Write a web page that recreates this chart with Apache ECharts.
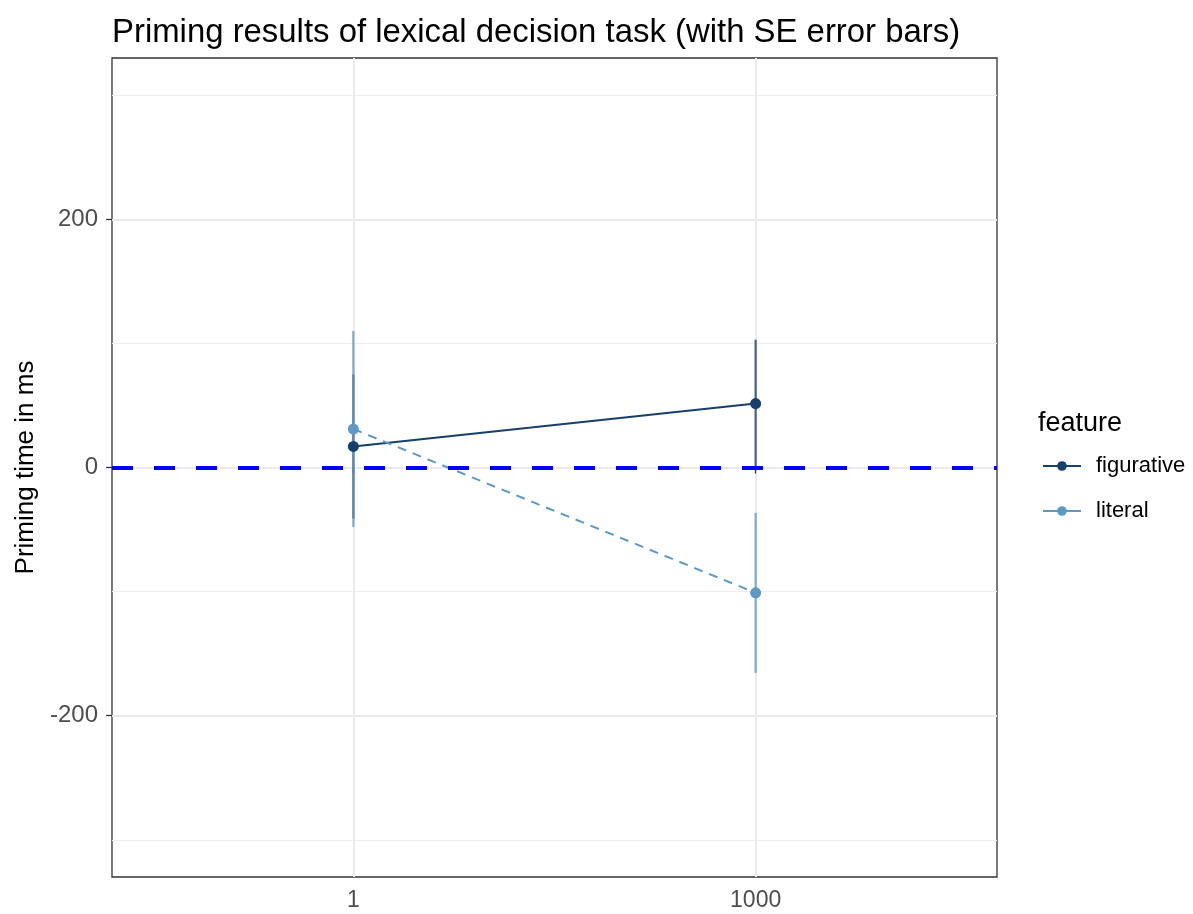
<!DOCTYPE html>
<html>
<head>
<meta charset="utf-8">
<script src="https://cdn.jsdelivr.net/npm/echarts@6/dist/echarts.min.js"></script>
<style>
html,body{margin:0;padding:0;background:#fff;}
#chart{width:1193px;height:914px;}
</style>
</head>
<body>
<div id="chart"></div>
<script>
// ---- data ----
var categories = ['1', '1000'];
var figurativeMean = [17, 51.5];
var figurativeSE = [58, 51.5];
var literalMean = [31, -101];
var literalSE = [79, 64.5];
var yTickLabels = [-200, 0, 200];
var yMinorGrid = [-300, -100, 100, 300];
var referenceLine = 0;

var FONT = 'Liberation Sans, Arial, Helvetica, sans-serif';
var colFig = '#173f6b';
var colLit = '#5c99c4';

var xPos = categories.map(function (c, i) { return i + 1; });
function pts(mean) { return mean.map(function (m, i) { return [xPos[i], m]; }); }
function bars(mean, se) { return mean.map(function (m, i) { return [xPos[i], m - se[i], m + se[i]]; }); }

function errRender(color) {
  return function (params, api) {
    var x = api.value(0);
    var p1 = api.coord([x, api.value(1)]);
    var p2 = api.coord([x, api.value(2)]);
    return {
      type: 'line',
      shape: { x1: p1[0], y1: p1[1], x2: p2[0], y2: p2[1] },
      style: { stroke: color, lineWidth: 2.2, opacity: 0.8 }
    };
  };
}

var chart = echarts.init(document.getElementById('chart'), null, { renderer: 'canvas' });
var option = {
  animation: false,
  backgroundColor: '#ffffff',
  title: [
    { text: 'Priming results of lexical decision task (with SE error bars)', left: 107, top: 11,
      textStyle: { fontFamily: FONT, fontSize: 32.9, fontWeight: 'normal', color: '#000' } },
    { text: 'feature', left: 1033, top: 405,
      textStyle: { fontFamily: FONT, fontSize: 27, fontWeight: 'normal', color: '#000' } }
  ],
  grid: { left: 112, right: 196, top: 58, bottom: 37, show: true, borderColor: '#333333', borderWidth: 1.3,
    backgroundColor: 'transparent', containLabel: false, outerBoundsMode: 'none' },
  legend: {
    orient: 'vertical', left: 1037, top: 450, itemWidth: 38, itemHeight: 12, itemGap: 23,
    textStyle: { fontFamily: FONT, fontSize: 22, color: '#000', padding: [0, 0, 0, 10] },
    data: [
      { name: 'figurative', lineStyle: { type: 'solid', width: 2 } },
      { name: 'literal', lineStyle: { type: 'solid', width: 2 } }
    ]
  },
  xAxis: {
    type: 'value', min: 0.4, max: 2.6,
    axisLine: { show: false },
    splitLine: { show: false },
    axisTick: { show: true, length: 6, lineStyle: { color: '#333', width: 1.3 }, customValues: xPos },
    axisLabel: { customValues: xPos, margin: 12, fontFamily: FONT, fontSize: 23, color: '#4D4D4D',
      formatter: function (v) { var i = xPos.indexOf(Math.round(v)); return i >= 0 ? categories[i] : ''; } }
  },
  yAxis: {
    type: 'value', min: -330, max: 330,
    name: 'Priming time in ms', nameLocation: 'middle', nameGap: 72, nameRotate: 90,
    nameTextStyle: { fontFamily: FONT, fontSize: 26, color: '#000' },
    axisLine: { show: false },
    splitLine: { show: false },
    axisTick: { show: true, length: 6, lineStyle: { color: '#333', width: 1.3 }, customValues: yTickLabels },
    axisLabel: { customValues: yTickLabels, margin: 14, fontFamily: FONT, fontSize: 24, color: '#4D4D4D' }
  },
  series: [
    { name: '_grid', type: 'line', data: [], silent: true, z: 0,
      markLine: { silent: true, symbol: 'none', label: { show: false }, animation: false, z: 0,
        data: yMinorGrid.map(function (v) { return { yAxis: v, lineStyle: { color: '#EEEEEE', width: 1.1, type: 'solid' } }; })
          .concat(yTickLabels.map(function (v) { return { yAxis: v, lineStyle: { color: '#EBEBEB', width: 2, type: 'solid' } }; }))
          .concat(xPos.map(function (v) { return { xAxis: v, lineStyle: { color: '#EBEBEB', width: 2, type: 'solid' } }; })) } },
    { name: 'figurative_err', type: 'custom', renderItem: errRender(colFig), data: bars(figurativeMean, figurativeSE), z: 2, silent: true },
    { name: 'literal_err', type: 'custom', renderItem: errRender(colLit), data: bars(literalMean, literalSE), z: 2, silent: true },
    { name: 'figurative', type: 'line', data: pts(figurativeMean), color: colFig, symbol: 'circle', symbolSize: 11,
      lineStyle: { width: 2, color: colFig }, itemStyle: { color: colFig }, z: 3 },
    { name: 'literal', type: 'line', data: pts(literalMean), color: colLit, symbol: 'circle', symbolSize: 11,
      lineStyle: { width: 2, color: colLit, type: [9, 7] }, itemStyle: { color: colLit }, z: 3 },
    { name: '_hline', type: 'line', data: [], silent: true, z: 4,
      markLine: { silent: true, symbol: 'none', label: { show: false }, animation: false, z: 5,
        data: [{ yAxis: referenceLine }],
        lineStyle: { color: '#0000FF', width: 4, type: [21, 21] } } }
  ]
};
chart.setOption(option);
</script>
</body>
</html>
